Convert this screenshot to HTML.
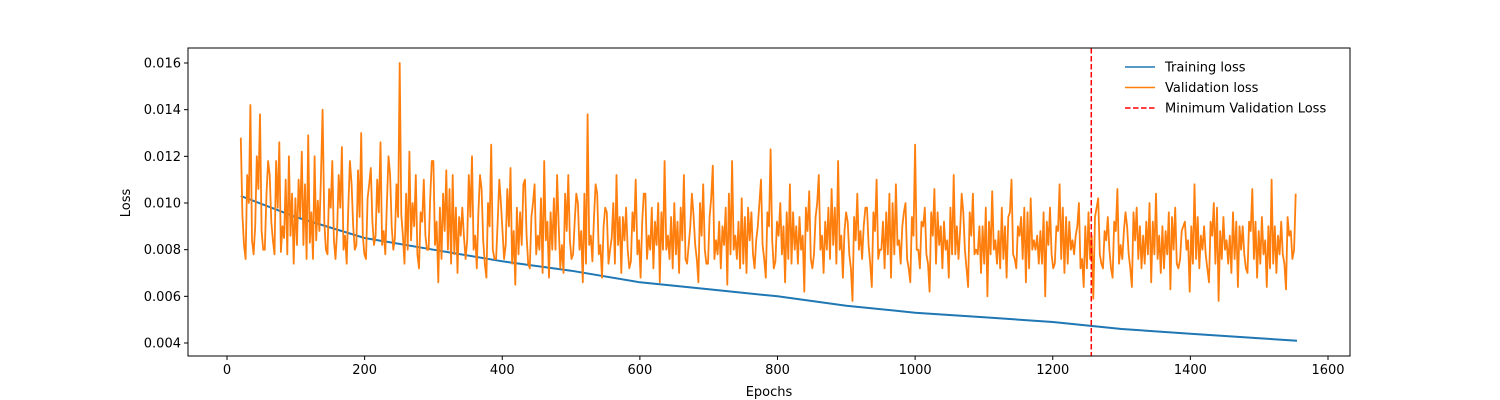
<!DOCTYPE html>
<html><head><meta charset="utf-8"><style>
html,body{margin:0;padding:0;background:#fff;}
svg{display:block;font-family:"DejaVu Sans","Liberation Sans",sans-serif;}
</style></head><body>
<svg id="chart" width="1500" height="400" xmlns="http://www.w3.org/2000/svg">
<g id="plot"></g>
</svg>
<script>
const yTicks=[0.004,0.006,0.008,0.010,0.012,0.014,0.016];
const yTickLabels=["0.004","0.006","0.008","0.010","0.012","0.014","0.016"];
const xTicks=[0,200,400,600,800,1000,1200,1400,1600];
const trainEpochs=[20,100,200,300,400,500,600,700,800,900,1000,1100,1200,1300,1400,1500,1555];
const trainLoss=[0.0103,0.0094,0.0085,0.0080,0.0075,0.0071,0.0066,0.0063,0.0060,0.0056,0.0053,0.0051,0.0049,0.0046,0.0044,0.0042,0.0041];
const valStart=20, valStep=7;
// values at epochs 20,27,34,...
const valLossA=[
.0128,.0076,.0142,.0090,.0138,.0080,.0112,.0078,.0126,.0085,
.0120,.0074,.0110,.0082,.0129,.0076,.0101,.0140,.0078,.0118,
.0088,.0124,.0074,.0108,.0082,.0130,.0076,.0115,.0086,.0126,
.0078,.0112,.0085,.0160,.0074,.0122,.0090,.0072,.0110,.0080,
.0118,.0066,.0104,.0080,.0112,.0070,.0098,.0084,.0120,.0072,
.0106,.0068,.0125,.0076,.0100,.0082,.0115,.0065,.0096,.0110,
.0072,.0108,.0080,.0118,.0068,.0102,.0090,.0070,.0112,.0078,
.0100,.0066,.0138,.0075,.0104,.0068,.0096,.0085,.0112,.0070,
.0098,.0075,.0110,.0068,.0104,.0080,.0092,.0066,.0118,.0076,
.0100,.0070,.0112,.0082,.0095,.0066,.0108,.0074,.0116,.0078,
.0090,.0065,.0118,.0076,.0102,.0070,.0096,.0084,.0110,.0068,
.0123,.0075,.0100,.0066,.0108,.0080,.0094,.0062,.0105,.0078,
.0112,.0070,.0098,.0082,.0118,.0068,.0092,.0058,.0104,.0076,
.0098,.0064,.0110,.0080,.0096,.0068,.0108,.0074,.0100,.0066,
.0125,.0072,.0098,.0062,.0106,.0082,.0092,.0068,.0112,.0076,
.0096,.0064,.0104,.0078,.0090,.0060,.0105,.0074,.0098,.0068,
.0110,.0072,.0094,.0066,.0102,.0080,.0088,.0060,.0098,.0074,
.0108,.0070,.0092,.0078,.0100,.0064,.0096,.0059,.0102,.0072,
.0094,.0068,.0106,.0076,.0090,.0064,.0098,.0072,.0092,.0066,
.0104,.0070,.0088,.0063,.0098,.0076,.0092,.0062,.0108,.0072,
.0090,.0066,.0100,.0058,.0094,.0074,.0096,.0064,.0090,.0070,
.0106,.0068,.0094,.0064,.0110,.0070,.0092,.0063,.0088,.0104];
// values at epochs 22.3,29.3,...
const valLossB=[
.0095,.0112,.0084,.0120,.0088,.0104,.0092,.0118,.0079,.0110,
.0086,.0102,.0094,.0108,.0083,.0120,.0088,.0092,.0106,.0084,
.0112,.0080,.0098,.0090,.0114,.0086,.0102,.0092,.0110,.0082,
.0100,.0090,.0108,.0095,.0104,.0084,.0112,.0096,.0086,.0102,
.0082,.0098,.0088,.0106,.0078,.0094,.0086,.0112,.0080,.0096,
.0084,.0100,.0080,.0092,.0088,.0106,.0074,.0098,.0082,.0086,
.0094,.0078,.0102,.0084,.0096,.0080,.0072,.0104,.0084,.0092,
.0080,.0104,.0082,.0094,.0078,.0090,.0074,.0100,.0082,.0094,
.0080,.0096,.0078,.0092,.0076,.0098,.0082,.0096,.0080,.0094,
.0078,.0098,.0076,.0090,.0082,.0100,.0080,.0094,.0076,.0092,
.0082,.0104,.0080,.0092,.0074,.0098,.0078,.0090,.0082,.0096,
.0084,.0092,.0078,.0096,.0074,.0090,.0080,.0098,.0076,.0094,
.0080,.0092,.0076,.0098,.0080,.0088,.0078,.0094,.0080,.0090,
.0082,.0096,.0076,.0092,.0078,.0100,.0082,.0090,.0076,.0094,
.0080,.0092,.0078,.0096,.0074,.0090,.0080,.0098,.0078,.0088,
.0080,.0096,.0078,.0090,.0074,.0092,.0080,.0088,.0076,.0094,
.0078,.0090,.0076,.0096,.0080,.0086,.0074,.0092,.0078,.0090,
.0076,.0094,.0080,.0086,.0072,.0090,.0076,.0094,.0078,.0088,
.0080,.0092,.0074,.0088,.0078,.0096,.0076,.0086,.0078,.0092,
.0076,.0090,.0078,.0094,.0074,.0088,.0080,.0090,.0076,.0086,
.0078,.0092,.0074,.0088,.0080,.0086,.0076,.0090,.0078,.0092,
.0076,.0088,.0078,.0090,.0074,.0086,.0078,.0094,.0076,.0090];
// values at epochs 24.7,31.7,...
const valLossC=[
.0082,.0100,.0078,.0106,.0080,.0118,.0084,.0098,.0090,.0078,
.0104,.0082,.0122,.0076,.0096,.0084,.0112,.0080,.0098,.0076,
.0098,.0086,.0118,.0080,.0094,.0078,.0108,.0082,.0096,.0088,
.0120,.0080,.0094,.0086,.0080,.0100,.0078,.0092,.0080,.0118,
.0092,.0076,.0114,.0074,.0098,.0086,.0076,.0094,.0086,.0112,
.0074,.0090,.0076,.0110,.0076,.0090,.0088,.0078,.0108,.0074,
.0100,.0086,.0070,.0092,.0080,.0112,.0082,.0088,.0076,.0104,
.0088,.0074,.0086,.0108,.0082,.0098,.0080,.0074,.0094,.0084,
.0072,.0088,.0084,.0104,.0086,.0072,.0100,.0080,.0086,.0072,
.0092,.0084,.0074,.0104,.0076,.0086,.0074,.0102,.0084,.0072,
.0098,.0078,.0086,.0072,.0094,.0084,.0072,.0100,.0076,.0090,
.0072,.0086,.0090,.0076,.0096,.0074,.0086,.0088,.0072,.0100,
.0086,.0080,.0106,.0074,.0086,.0096,.0072,.0084,.0088,.0098,
.0074,.0088,.0080,.0072,.0104,.0078,.0084,.0096,.0072,.0086,
.0080,.0090,.0074,.0086,.0096,.0072,.0084,.0078,.0090,.0104,
.0072,.0086,.0080,.0070,.0098,.0078,.0084,.0072,.0090,.0096,
.0076,.0086,.0098,.0072,.0084,.0074,.0096,.0082,.0072,.0088,
.0098,.0074,.0084,.0090,.0076,.0072,.0086,.0098,.0074,.0084,
.0072,.0088,.0082,.0096,.0072,.0084,.0090,.0074,.0100,.0078,
.0086,.0072,.0096,.0080,.0072,.0090,.0084,.0074,.0094,.0080,
.0072,.0086,.0098,.0076,.0084,.0070,.0092,.0080,.0072,.0088,
.0092,.0074,.0084,.0072,.0090,.0078,.0074,.0086,.0080,.0104];
const minEpoch=[1256];

const L=188,R=1350,T=48,B=356;
const xs=e=>227+e*(1328-227)/1600;
const ys=v=>343-(v-0.004)*(280/0.012);
const NS="http://www.w3.org/2000/svg";
const g=document.getElementById('plot');
function mk(t,a,txt){const e=document.createElementNS(NS,t);for(const k in a)e.setAttribute(k,a[k]);if(txt!==undefined)e.textContent=txt;g.appendChild(e);return e;}

let tp=trainEpochs.map((e,i)=>xs(e).toFixed(1)+","+ys(trainLoss[i]).toFixed(1)).join(" ");
let tl=mk('polyline',{points:tp,fill:'none',stroke:'#1f77b4','stroke-width':2});



const vpts=[];
valLossA.forEach((v,i)=>{
  vpts.push(xs(valStart+i*valStep).toFixed(1)+","+ys(v).toFixed(1));
  if(i<valLossA.length-1){
    vpts.push(xs(valStart+i*valStep+valStep/3).toFixed(1)+","+ys(valLossB[i]).toFixed(1));
    vpts.push(xs(valStart+i*valStep+2*valStep/3).toFixed(1)+","+ys(valLossC[i]).toFixed(1));
  }
});
let vl=mk('polyline',{points:vpts.join(" "),fill:'none',stroke:'#ff7f0e','stroke-width':1.8,'stroke-linejoin':'round'});



let ml=mk('line',{x1:xs(minEpoch[0]),x2:xs(minEpoch[0]),y1:T,y2:B,stroke:'#ff0000','stroke-width':1.5,'stroke-dasharray':'5.5,2.5'});



let fr=mk('rect',{x:L,y:T,width:R-L,height:B-T,fill:'none',stroke:'#000','stroke-width':1});



xTicks.forEach(t=>{
  let tk=mk('line',{x1:xs(t),x2:xs(t),y1:B,y2:B+4,stroke:'#000'});
  
  
  let lb=mk('text',{x:xs(t),y:B+18,'text-anchor':'middle','font-size':13,fill:'#000'},String(t));
  
  
});
yTicks.forEach((t,i)=>{
  let tk=mk('line',{x1:L-4,x2:L,y1:ys(t),y2:ys(t),stroke:'#000'});
  
  
  let lb=mk('text',{x:L-7,y:ys(t)+4.5,'text-anchor':'end','font-size':13,fill:'#000'},yTickLabels[i]);
  
  
});
let xt=mk('text',{x:769,y:396,'text-anchor':'middle','font-size':13},'Epochs');


let yt=mk('text',{x:130,y:203,'text-anchor':'middle','font-size':13,transform:'rotate(-90 130 203)'},'Loss');



const leg=[['Training loss','#1f77b4',null],['Validation loss','#ff7f0e',null],['Minimum Validation Loss','#ff0000','5.5,2.5']];
leg.forEach((l,i)=>{
  const y=67+i*20.5;
  const a={x1:1125,x2:1155,y1:y,y2:y,stroke:l[1],'stroke-width':1.5};
  if(l[2])a['stroke-dasharray']=l[2];
  let ln=mk('line',a);
  
  
  let tx=mk('text',{x:1165,y:y+4.5,'font-size':13},l[0]);
  
  
});
</script>
</body></html>
